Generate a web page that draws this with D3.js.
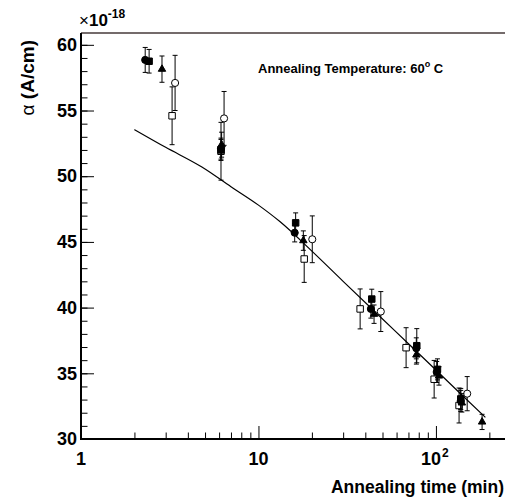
<!DOCTYPE html>
<html>
<head>
<script src="https://d3js.org/d3.v7.min.js" charset="utf-8"></script>
<style>
  body { margin: 0; background: #fff; }
  text { font-family: "Liberation Sans", Arial, Helvetica, sans-serif; font-weight: bold; }
</style>
</head>
<body>
<div id="chart"></div>
<script>
// frame in pixels
var W = 505, H = 499;
var fLeft = 81, fTop = 33, fRight = 505, fBottom = 439;

// axis ranges and ticks
var xMin = 1, xMax = 245;
var yMin = 30, yMax = 60.9;
var yMajor = [30, 35, 40, 45, 50, 55, 60];
var xMajor = [1, 10, 100];
var xMajorText = ["1", "10", "10"];
var xMajorSup = ["", "", "2"];
var xMinor = [2, 3, 4, 5, 6, 7, 8, 9, 20, 30, 40, 50, 60, 70, 80, 90, 200];

// filled circles
var circT = [2.3, 6.15, 16.0, 43.0, 77.5, 101, 138];
var circA = [58.85, 52.1, 45.7, 39.9, 36.9, 35.1, 32.9];
var circE = [0.95, 0.8, 0.7, 0.7, 0.8, 0.8, 0.8];
// filled squares
var sqT = [2.42, 6.15, 16.2, 43.5, 78, 102, 138];
var sqA = [58.75, 52.0, 46.45, 40.65, 37.1, 35.3, 33.05];
var sqE = [0.9, 0.8, 0.76, 0.75, 1.3, 0.8, 0.8];
// filled triangles
var triT = [2.86, 6.2, 17.9, 44.8, 77.6, 104, 140, 182];
var triA = [58.15, 52.4, 45.1, 39.5, 36.4, 34.8, 32.75, 31.3];
var triE = [1.0, 0.95, 0.74, 0.7, 0.7, 0.7, 0.7, 0.58];
// open circles
var ocT = [3.39, 6.4, 20.1, 48.9, 150];
var ocA = [57.1, 54.4, 45.2, 39.7, 33.45];
var ocE = [2.1, 2.05, 1.78, 1.52, 1.3];
// open squares
var osT = [3.26, 6.15, 18.1, 37.4, 67.9, 97.7, 135];
var osA = [54.6, 51.9, 43.7, 39.9, 36.95, 34.55, 32.55];
var osE = [2.2, 2.2, 1.78, 1.52, 1.52, 1.43, 1.33];

// fit curve
var fitT = [2, 3, 4.8, 7, 10, 13.2, 20, 30, 48.5, 70, 100, 140, 190];
var fitA = [53.55, 52.2, 50.7, 49.2, 47.8, 46.55, 44.3, 42.0, 39.3, 37.25, 35.25, 33.35, 31.65];

var svg = d3.select("#chart").append("svg")
    .attr("width", W)
    .attr("height", H)
    .style("background", "#fff");

var x = d3.scaleLog().domain([xMin, xMax]).range([fLeft, fRight]);
var y = d3.scaleLinear().domain([yMin, yMax]).range([fBottom, fTop]);

// top frame line
svg.append("line")
    .attr("x1", fLeft).attr("x2", fRight)
    .attr("y1", fTop).attr("y2", fTop)
    .attr("stroke", "#463a3a")
    .attr("stroke-width", 1.5);

// y axis: minor then major
svg.append("g")
    .attr("transform", "translate(" + fLeft + ",0)")
    .call(d3.axisLeft(y).tickValues(d3.range(31, 61, 1)).tickSize(-6.5).tickSizeOuter(0).tickFormat(""))
    .call(function(g) { g.select(".domain").remove(); });

var yAx = svg.append("g")
    .attr("transform", "translate(" + fLeft + ",0)")
    .call(d3.axisLeft(y).tickValues(yMajor).tickSize(-13).tickSizeOuter(0).tickPadding(4));
yAx.select(".domain").remove();
yAx.selectAll(".tick line").attr("stroke", "#000");
yAx.selectAll(".tick text")
    .attr("font-size", 18)
    .attr("font-family", "'Liberation Sans', Arial, sans-serif")
    .attr("font-weight", "bold")
    .attr("fill", "#000");

// x axis
svg.append("g")
    .attr("transform", "translate(0," + fBottom + ")")
    .call(d3.axisBottom(x).tickValues(xMinor).tickSize(-6.5).tickSizeOuter(0).tickFormat(""))
    .call(function(g) { g.select(".domain").remove(); });

var xAx = svg.append("g")
    .attr("transform", "translate(0," + fBottom + ")")
    .call(d3.axisBottom(x).tickValues(xMajor).tickSize(-13).tickSizeOuter(0).tickFormat(""));
xAx.select(".domain").remove();

xMajor.forEach(function(v, i) {
  svg.append("text")
      .attr("x", x(v) + (xMajorSup[i] ? -5 : 0))
      .attr("y", 465)
      .attr("text-anchor", "middle")
      .attr("font-size", 18)
      .text(xMajorText[i]);
  if (xMajorSup[i]) {
    svg.append("text")
        .attr("x", x(v) + 6)
        .attr("y", 457)
        .attr("font-size", 12)
        .text(xMajorSup[i]);
  }
});

// axis lines
svg.append("line")
    .attr("x1", fLeft).attr("x2", fLeft)
    .attr("y1", fTop).attr("y2", fBottom)
    .attr("stroke", "#000").attr("stroke-width", 2);
svg.append("line")
    .attr("x1", fLeft - 1).attr("x2", fRight)
    .attr("y1", fBottom).attr("y2", fBottom)
    .attr("stroke", "#000").attr("stroke-width", 2);

// exponent
var ex = svg.append("text").attr("x", 79).attr("y", 26).attr("font-size", 17);
ex.append("tspan").attr("font-weight", "normal").text("\u00d7");
ex.append("tspan").text("10");
ex.append("tspan").attr("font-size", 12).attr("dy", -8).text("-18");

// axis titles
var yt = svg.append("text")
    .attr("transform", "translate(34,40) rotate(-90)")
    .attr("text-anchor", "end")
    .attr("font-size", 19);
yt.append("tspan").attr("font-weight", "normal").text("\u03b1");
yt.append("tspan").text(" (A/cm)");

svg.append("text")
    .attr("x", 504)
    .attr("y", 493)
    .attr("text-anchor", "end")
    .attr("font-size", 17.5)
    .text("Annealing time (min)");

// annotation
var ann = svg.append("text").attr("x", 258).attr("y", 73).attr("font-size", 13);
ann.append("tspan").text("Annealing Temperature: 60");
ann.append("tspan").attr("font-size", 9).attr("dy", -6).text("o");
ann.append("tspan").attr("dy", 6).text(" C");

// fit curve
var line = d3.line()
    .x(function(d, i) { return x(fitT[i]); })
    .y(function(d, i) { return y(fitA[i]); })
    .curve(d3.curveMonotoneX);
svg.append("path")
    .datum(fitA)
    .attr("d", line)
    .attr("fill", "none")
    .attr("stroke", "#000")
    .attr("stroke-width", 1.2);

// series
function drawSeries(ts, as, es, type, size, filled) {
  var g = svg.append("g");
  var pts = ts.map(function(t, i) { return {t: t, a: as[i], e: es[i]}; });
  var bars = g.selectAll("g.bar").data(pts).enter().append("g").attr("class", "bar");
  bars.append("line")
      .attr("x1", function(d) { return x(d.t); })
      .attr("x2", function(d) { return x(d.t); })
      .attr("y1", function(d) { return y(d.a - d.e); })
      .attr("y2", function(d) { return y(d.a + d.e); })
      .attr("stroke", "#000").attr("stroke-width", 1);
  [-1, 1].forEach(function(s) {
    bars.append("line")
        .attr("x1", function(d) { return x(d.t) - 2.5; })
        .attr("x2", function(d) { return x(d.t) + 2.5; })
        .attr("y1", function(d) { return y(d.a + s * d.e); })
        .attr("y2", function(d) { return y(d.a + s * d.e); })
        .attr("stroke", "#000").attr("stroke-width", 1);
  });
  g.selectAll("path.mk").data(pts).enter().append("path")
      .attr("class", "mk")
      .attr("d", d3.symbol().type(type).size(size))
      .attr("transform", function(d) { return "translate(" + x(d.t) + "," + y(d.a) + ")"; })
      .attr("fill", filled ? "#000" : "#fff")
      .attr("stroke", "#000")
      .attr("stroke-width", 1);
}

drawSeries(osT, osA, osE, d3.symbolSquare, 42, false);
drawSeries(ocT, ocA, ocE, d3.symbolCircle, 40, false);
drawSeries(circT, circA, circE, d3.symbolCircle, 40, true);
drawSeries(sqT, sqA, sqE, d3.symbolSquare, 42, true);
drawSeries(triT, triA, triE, d3.symbolTriangle, 24, true);
</script>
</body>
</html>
